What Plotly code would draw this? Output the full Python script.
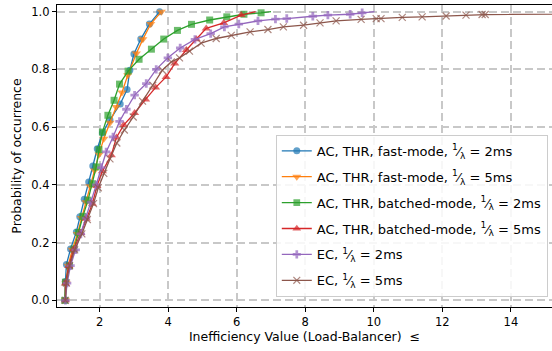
import plotly.graph_objects as go

# ---- data ----
fast2_x = [1.0, 1.0, 1.03, 1.15, 1.32, 1.42, 1.55, 1.68, 1.8, 1.93, 2.08, 2.3, 2.6, 2.8, 2.88, 3.0, 3.2, 3.45, 3.75]
fast2_y = [0, 0.065, 0.124, 0.178, 0.237, 0.29, 0.35, 0.41, 0.465, 0.525, 0.58, 0.625, 0.68, 0.73, 0.797, 0.853, 0.905, 0.957, 1.0]

fast5_x = [1.0, 1.02, 1.08, 1.2, 1.35, 1.47, 1.6, 1.72, 1.85, 1.98, 2.12, 2.3, 2.48, 2.65, 2.82, 3.07, 3.26, 3.49, 3.8]
fast5_y = [0, 0.06, 0.12, 0.175, 0.23, 0.285, 0.34, 0.395, 0.45, 0.505, 0.56, 0.615, 0.67, 0.72, 0.78, 0.855, 0.904, 0.957, 1.0]

batch2_x = [0.98, 1.0, 1.12, 1.25, 1.38, 1.51, 1.66, 1.79, 1.9, 1.98, 2.08, 2.24, 2.42, 2.58, 2.83, 3.15, 3.51, 3.87, 4.27, 4.68, 5.21, 5.71, 6.21, 6.71, 7.0]
batch2_y = [0, 0.063, 0.12, 0.178, 0.235, 0.291, 0.347, 0.404, 0.462, 0.522, 0.583, 0.641, 0.693, 0.749, 0.794, 0.835, 0.870, 0.905, 0.935, 0.956, 0.971, 0.982, 0.991, 0.996, 1.0]

batch5_x = [1.0, 1.0, 1.10, 1.24, 1.45, 1.61, 1.79, 1.92, 2.08, 2.34, 2.49, 2.70, 3.02, 3.34, 3.63, 3.94, 4.19, 4.53, 4.82, 5.11, 5.62, 6.13, 6.55]
batch5_y = [0, 0.058, 0.119, 0.176, 0.233, 0.283, 0.335, 0.396, 0.447, 0.503, 0.564, 0.607, 0.649, 0.696, 0.737, 0.774, 0.820, 0.867, 0.904, 0.942, 0.961, 0.988, 1.0]

ec2_x = [1.0, 1.05, 1.15, 1.3, 1.45, 1.6, 1.75, 1.9, 2.05, 2.19, 2.39, 2.58, 2.78, 3.02, 3.36, 3.65, 3.99, 4.35, 4.78, 5.24, 5.64, 6.06, 6.62, 7.13, 7.46, 8.22, 8.66, 9.31, 9.66, 10.02]
ec2_y = [0, 0.06, 0.12, 0.175, 0.23, 0.285, 0.34, 0.40, 0.46, 0.514, 0.566, 0.62, 0.662, 0.711, 0.751, 0.80, 0.84, 0.874, 0.904, 0.924, 0.947, 0.957, 0.968, 0.974, 0.976, 0.984, 0.988, 0.991, 0.996, 1.0]

ec5_x = [1.0, 1.03, 1.12, 1.27, 1.48, 1.64, 1.82, 1.96, 2.12, 2.3, 2.5, 2.72, 2.98, 3.25, 3.55, 3.83, 4.09, 4.33, 4.62, 4.96, 5.40, 5.84, 6.39, 6.91, 7.36, 7.95, 8.43, 8.90, 9.63, 10.07, 10.21, 10.83, 11.41, 12.11, 12.69, 13.16, 13.25, 25.0]
ec5_y = [0, 0.06, 0.12, 0.175, 0.23, 0.28, 0.335, 0.39, 0.44, 0.49, 0.545, 0.59, 0.635, 0.69, 0.745, 0.797, 0.826, 0.84, 0.863, 0.891, 0.907, 0.918, 0.93, 0.938, 0.947, 0.953, 0.961, 0.968, 0.973, 0.976, 0.976, 0.980, 0.982, 0.985, 0.988, 0.99, 0.99, 1.0]

FR = "<sup>1</sup>⁄<sub>λ</sub>"
series = [
    ("AC, THR, fast-mode, " + FR + " = 2ms", fast2_x, fast2_y, "#1f77b4", "circle", False),
    ("AC, THR, fast-mode, " + FR + " = 5ms", fast5_x, fast5_y, "#ff7f0e", "triangle-down", False),
    ("AC, THR, batched-mode, " + FR + " = 2ms", batch2_x, batch2_y, "#2ca02c", "square", True),
    ("AC, THR, batched-mode, " + FR + " = 5ms", batch5_x, batch5_y, "#d62728", "triangle-up", True),
    ("EC, " + FR + " = 2ms", ec2_x, ec2_y, "#9467bd", "cross", True),
    ("EC, " + FR + " = 5ms", ec5_x, ec5_y, "#8c564b", "x-thin", True),
]

fig = go.Figure()
for i, (name, xs, ys, col, sym, hide_last) in enumerate(series):
    n = len(xs)
    base = 8 if sym in ("triangle-down", "triangle-up") else 7
    sizes = [base] * n
    if hide_last:
        sizes[-1] = 0
    marker = dict(symbol=sym, color=col, size=sizes)
    if sym == "x-thin":
        marker["line"] = dict(color=col, width=1.2)
    else:
        marker["line"] = dict(width=0)
    fig.add_trace(go.Scatter(x=xs, y=ys, mode="lines+markers", name=name,
                             legendgroup="g%d" % i,
                             line=dict(color=col, width=1.3), marker=marker))

grid = dict(showgrid=True, gridcolor="#c8c8c8", gridwidth=2, griddash="8px,4px")
fig.update_xaxes(range=[0.755, 15.2], tickvals=[2, 4, 6, 8, 10, 12, 14],
                 showline=True, linecolor="black", linewidth=1.2, mirror=True,
                 ticks="outside", ticklen=4, tickcolor="black", zeroline=False,
                 tickfont=dict(size=11.5, color="black"),
                 title=dict(text="Inefficiency Value (Load-Balancer)  ≤", font=dict(size=12.5, color="black"), standoff=4),
                 **grid)
fig.update_yaxes(range=[-0.023, 1.023], tickvals=[0, 0.2, 0.4, 0.6, 0.8, 1.0], tickformat=".1f",
                 showline=True, linecolor="black", linewidth=1.2, mirror=True,
                 ticks="outside", ticklen=4, tickcolor="black", zeroline=False,
                 tickfont=dict(size=11.5, color="black"),
                 title=dict(text="Probability of occurrence", font=dict(size=12.5, color="black"), standoff=6),
                 **grid)
fig.update_layout(
    width=552, height=351,
    margin=dict(l=57, r=0, t=5, b=44),
    plot_bgcolor="white", paper_bgcolor="white",
    font=dict(family="DejaVu Sans", color="black"),
    legend=dict(x=0.442, y=0.57, xanchor="left", yanchor="top",
                bgcolor="rgba(255,255,255,0.85)", bordercolor="#cccccc", borderwidth=1,
                font=dict(size=13, color="black"), itemwidth=30, tracegroupgap=6),
    showlegend=True,
)
fig.write_html("out.html")
